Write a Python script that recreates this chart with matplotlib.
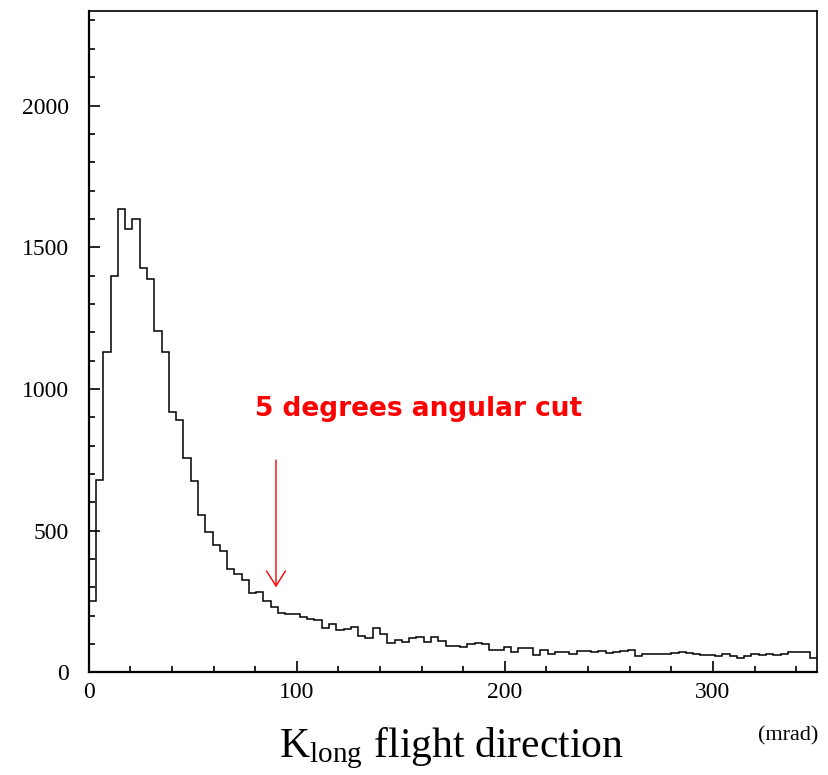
import numpy as np
import matplotlib
matplotlib.use("Agg")
import matplotlib.pyplot as plt
from matplotlib.ticker import MultipleLocator

# K_long flight direction histogram, 100 bins from 0 to 350 mrad
bin_edges = np.linspace(0, 350, 101)
counts = [
    253, 680, 1130, 1400, 1634, 1564, 1601, 1428, 1387, 1203,
    1130, 920, 889, 755, 674, 555, 496, 450, 427, 363,
    348, 327, 280, 283, 252, 230, 208, 207, 205, 196,
    187, 185, 157, 169, 149, 153, 160, 128, 120, 155,
    135, 102, 114, 106, 122, 126, 107, 125, 110, 93,
    94, 88, 100, 102, 100, 80, 80, 90, 73, 87,
    87, 61, 80, 65, 70, 72, 65, 75, 76, 73,
    76, 68, 72, 74, 78, 58, 66, 66, 66, 66,
    68, 70, 68, 64, 60, 62, 56, 64, 58, 52,
    58, 66, 62, 64, 60, 64, 70, 70, 72, 50,
]

cut_angle = 90          # mrad, ~5 degrees
cut_label = "5 degrees angular cut"
x_ticks = [0, 100, 200, 300]
y_ticks = [0, 500, 1000, 1500, 2000]

plt.rcParams['mathtext.fontset'] = 'stix'

fig = plt.figure(figsize=(8.29, 7.75), dpi=100)
ax = fig.add_axes([0.107, 0.1325, 0.8785, 0.8535])

ax.stairs(counts, bin_edges, color='black', lw=1.1, baseline=None)

ax.set_xlim(0, 350)
ax.set_ylim(0, 2334)
ax.set_xticks(x_ticks)
ax.set_yticks(y_ticks)
ax.xaxis.set_minor_locator(MultipleLocator(20))
ax.yaxis.set_minor_locator(MultipleLocator(100))
ax.tick_params(which='both', direction='in', top=False, right=False, width=1.2)
ax.tick_params(which='major', length=8)
ax.tick_params(which='minor', length=4.5)
ax.tick_params(axis='y', pad=14)
ax.tick_params(axis='x', pad=7)
for lab in ax.get_xticklabels() + ax.get_yticklabels():
    lab.set_fontfamily('Liberation Serif')
    lab.set_fontsize(17)
for s in ax.spines.values():
    s.set_linewidth(1.2)
ax.spines['left'].set_linewidth(1.6)
ax.spines['bottom'].set_linewidth(1.6)

# the cut marker
ax.annotate('', xy=(cut_angle, 300), xytext=(cut_angle, 749),
            arrowprops=dict(arrowstyle='->,head_length=0.54,head_width=0.34',
                            color='red', lw=1.0, mutation_scale=20,
                            shrinkA=0, shrinkB=0))
ax.text(158.5, 929, cut_label, color='red', fontsize=19, weight='bold',
        family='DejaVu Sans', ha='center', va='center')

fig.text(0.545, 0.023, r'K$_{\mathregular{long}}$ flight direction',
         family='Liberation Serif', fontsize=30, ha='center', va='baseline')
fig.text(0.987, 0.045, '(mrad)', family='Liberation Serif', fontsize=16,
         ha='right', va='baseline')

fig.savefig('out.png', dpi=100)
